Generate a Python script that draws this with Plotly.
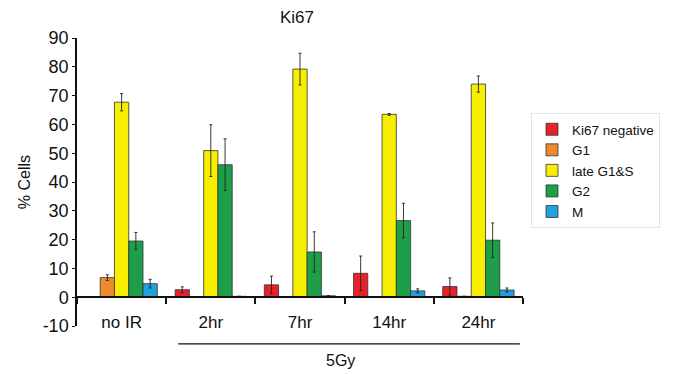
import plotly.graph_objects as go

categories = ["no IR", "2hr", "7hr", "14hr", "24hr"]
series_names = ["Ki67 negative", "G1", "late G1&S", "G2", "M"]
ki67_neg = [0.0, 2.6, 4.3, 8.3, 3.7]
ki67_neg_err = [0.0, 1.0, 3.0, 6.0, 3.0]
g1 = [6.8, 0.0, 0.0, 0.0, 0.3]
g1_err = [1.0, 0.0, 0.0, 0.0, 0.0]
late_g1s = [67.7, 50.9, 79.2, 63.5, 74.0]
late_g1s_err = [3.0, 9.0, 5.5, 0.3, 2.8]
g2 = [19.5, 46.0, 15.7, 26.6, 19.8]
g2_err = [3.0, 9.0, 7.0, 6.0, 6.0]
m = [4.7, 0.3, 0.5, 2.2, 2.5]
m_err = [1.5, 0.0, 0.0, 0.7, 0.7]
colors = ["#e8202a", "#ec8a2c", "#f7ee00", "#1f9e4a", "#1ea2e0"]
y_ticks = list(range(-10, 91, 10))
y_tick_labels = [str(v) for v in y_ticks]

values = [ki67_neg, g1, late_g1s, g2, m]
errors = [ki67_neg_err, g1_err, late_g1s_err, g2_err, m_err]

font = "Liberation Sans, Arial, sans-serif"
fig = go.Figure()
for name, vals, errs, col in zip(series_names, values, errors, colors):
    fig.add_trace(go.Bar(
        x=categories, y=vals, name=name,
        marker=dict(color=col, line=dict(color="#333333", width=0.8)),
        error_y=dict(type="data", array=errs, visible=True,
                     color="#222222", thickness=0.9, width=1.5),
    ))

fig.update_layout(
    width=673, height=374,
    margin=dict(l=77, r=150, t=38, b=48, autoexpand=False),
    paper_bgcolor="white", plot_bgcolor="white",
    barmode="group", bargap=0.2, bargroupgap=0,
    font=dict(family=font, color="#111111"),
    showlegend=True,
    legend=dict(xref="container", yref="container",
                x=531 / 673, y=1 - 113 / 374, xanchor="left", yanchor="top",
                font=dict(size=13.5, family=font),
                bordercolor="#e4e4e4", borderwidth=1,
                bgcolor="white", itemwidth=30, tracegroupgap=0),
    xaxis=dict(
        type="category", range=[-0.5, 4.5], automargin=False,
        anchor="free", position=0.1,
        showline=True, linecolor="#111111", linewidth=1.5,
        ticks="outside", tickson="boundaries", ticklen=6,
        tickcolor="#111111", tickwidth=1.5,
        tickfont=dict(size=17, family=font),
        ticklabelstandoff=10,
        showgrid=False, zeroline=False,
    ),
    yaxis=dict(
        range=[-10, 90], tickvals=y_ticks, ticktext=y_tick_labels,
        automargin=False,
        showline=True, linecolor="#111111", linewidth=1.5,
        ticks="outside", ticklen=3, tickcolor="#111111",
        tickfont=dict(size=18, family=font),
        showgrid=False, zeroline=False,
        title=dict(text="% Cells", font=dict(size=16, family=font), standoff=8),
    ),
    annotations=[
        dict(text="Ki67", x=(297 - 77) / 446, xref="paper", y=1.03, yref="paper",
             yanchor="bottom", showarrow=False, font=dict(size=17, family=font)),
        dict(text="5Gy", x=(340 - 77) / 446, xref="paper", y=-0.084, yref="paper",
             xanchor="center", yanchor="top", showarrow=False,
             font=dict(size=16, family=font)),
    ],
    shapes=[
        dict(type="line", xref="paper", yref="paper",
             x0=0.227, x1=0.993, y0=-0.062, y1=-0.062,
             line=dict(color="#111111", width=1.2)),
    ],
)

fig.write_html("out.html", config={"displayModeBar": False},
               post_script="document.body.style.margin='0';document.body.style.padding='0';")
